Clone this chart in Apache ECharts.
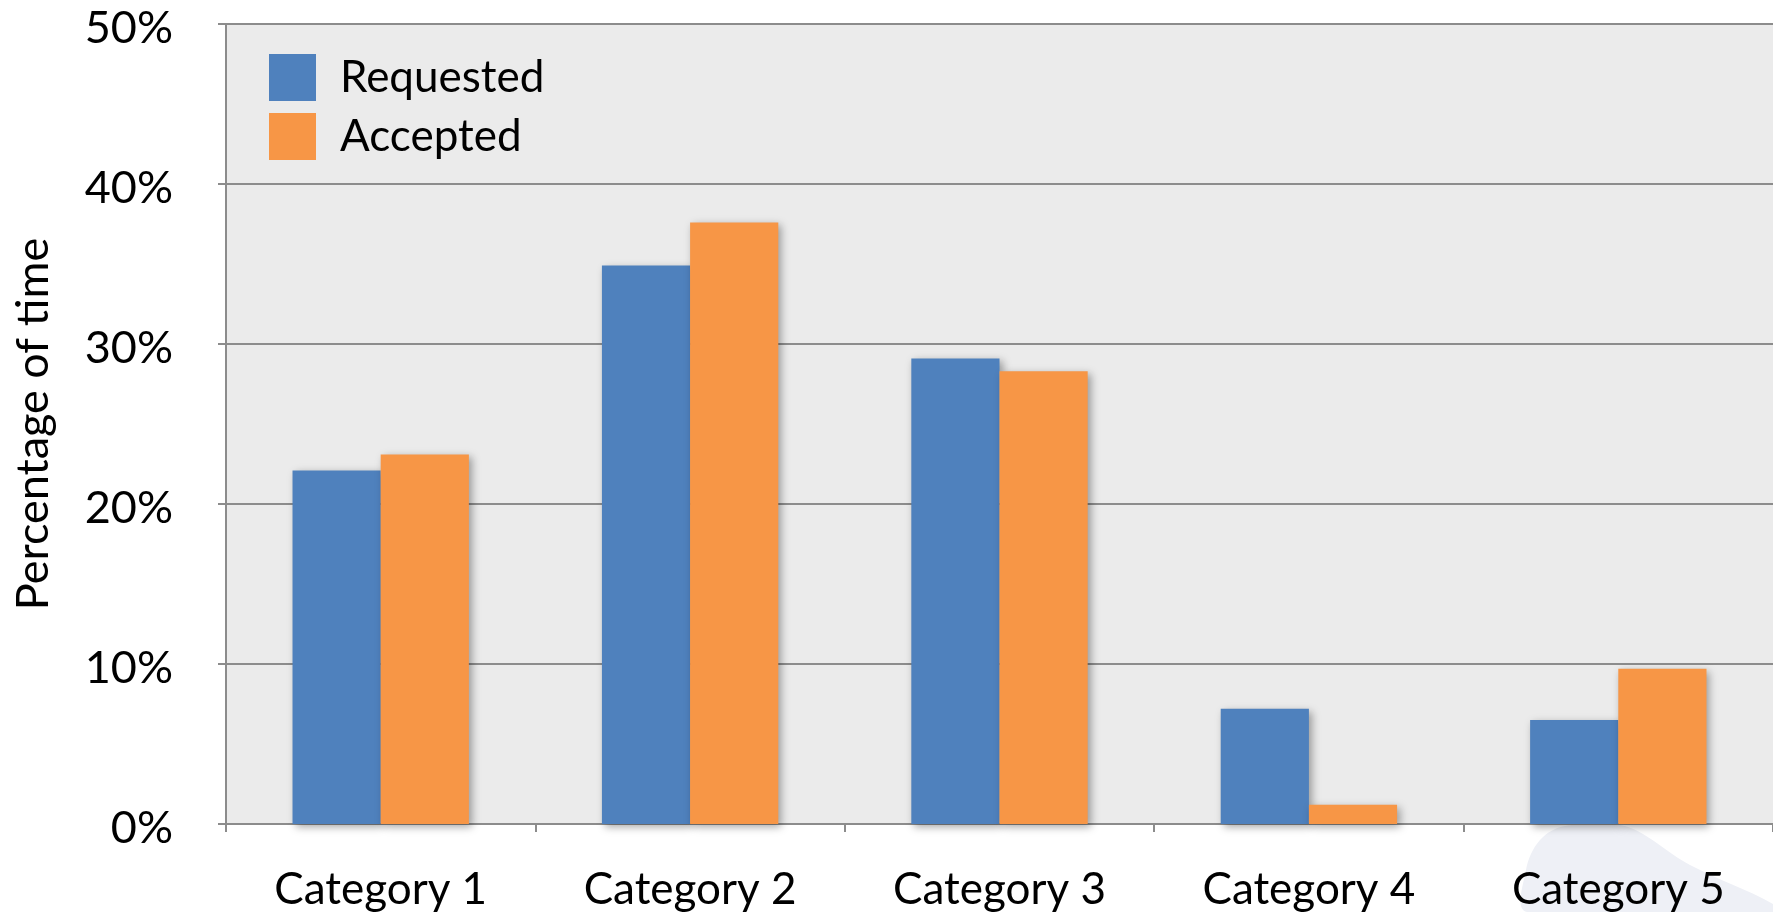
<!DOCTYPE html>
<html>
<head>
<meta charset="utf-8">
<script src="https://cdn.jsdelivr.net/npm/echarts@6/dist/echarts.min.js"></script>
<style>
html,body{margin:0;padding:0;background:#fff;}
#chart{width:1773px;height:912px;}
</style>
</head>
<body>
<div id="chart"></div>
<script>
const categories = ['Category 1', 'Category 2', 'Category 3', 'Category 4', 'Category 5'];
const requested = [22.1, 34.9, 29.1, 7.2, 6.5];
const accepted = [23.1, 37.6, 28.3, 1.2, 9.7];
const seriesNames = ['Requested', 'Accepted'];
const yTicks = [0, 10, 20, 30, 40, 50];

const FONT = 'Lato, "Open Sans", sans-serif';
const GRID_COLOR = '#8c8c8c';
const shadow = {shadowColor: 'rgba(0,0,0,0.35)', shadowBlur: 8, shadowOffsetX: 3, shadowOffsetY: 3};

const chart = echarts.init(document.getElementById('chart'), null, {renderer: 'canvas'});
chart.setOption({
  animation: false,
  textStyle: {fontFamily: FONT},
  graphic: [{
    type: 'polygon',
    z: -10,
    shape: {
      points: [[1527,912],[1526,870],[1540,840],[1565,826],[1625,826],[1690,865],[1773,904],[1773,912]],
      smooth: 0.35
    },
    style: {fill: '#eef0f6'}
  }],
  grid: {
    left: 226, right: 0, top: 24, bottom: 85,
    show: true, backgroundColor: '#ebebeb', borderWidth: 0
  },
  legend: {
    orient: 'vertical',
    left: 264, top: 49,
    itemWidth: 47, itemHeight: 47, itemGap: 12,
    icon: 'rect',
    textStyle: {fontSize: 44, color: '#000', fontFamily: FONT, padding: [0, 0, 0, 19]},
    data: seriesNames
  },
  xAxis: {
    type: 'category',
    data: categories,
    axisLine: {show: true, lineStyle: {color: GRID_COLOR, width: 2}},
    axisTick: {show: true, length: 8, lineStyle: {color: GRID_COLOR, width: 2}},
    axisLabel: {fontSize: 44, color: '#000', margin: 44, fontFamily: FONT}
  },
  yAxis: {
    type: 'value',
    min: yTicks[0], max: yTicks[yTicks.length - 1], interval: 10,
    name: 'Percentage of time',
    nameLocation: 'middle',
    nameRotate: 90,
    nameGap: 170,
    nameTextStyle: {fontSize: 45, color: '#000', fontFamily: FONT},
    axisLine: {show: true, lineStyle: {color: GRID_COLOR, width: 2}},
    axisTick: {show: true, length: 8, lineStyle: {color: GRID_COLOR, width: 2}},
    splitLine: {show: true, lineStyle: {color: GRID_COLOR, width: 2}},
    axisLabel: {
      color: '#000', margin: 53, fontFamily: FONT,
      formatter: function (v) { return '{v|' + v + '%}'; },
      rich: {v: {fontSize: 45, color: '#000', fontFamily: FONT, padding: [9, 0, 0, 0]}}
    }
  },
  series: [
    {name: seriesNames[0], type: 'bar', data: requested, barGap: '0%', barCategoryGap: '43%',
     itemStyle: Object.assign({color: '#4f81bd'}, shadow)},
    {name: seriesNames[1], type: 'bar', data: accepted, barGap: '0%', barCategoryGap: '43%',
     itemStyle: Object.assign({color: '#f79646'}, shadow)}
  ]
});
</script>
</body>
</html>
